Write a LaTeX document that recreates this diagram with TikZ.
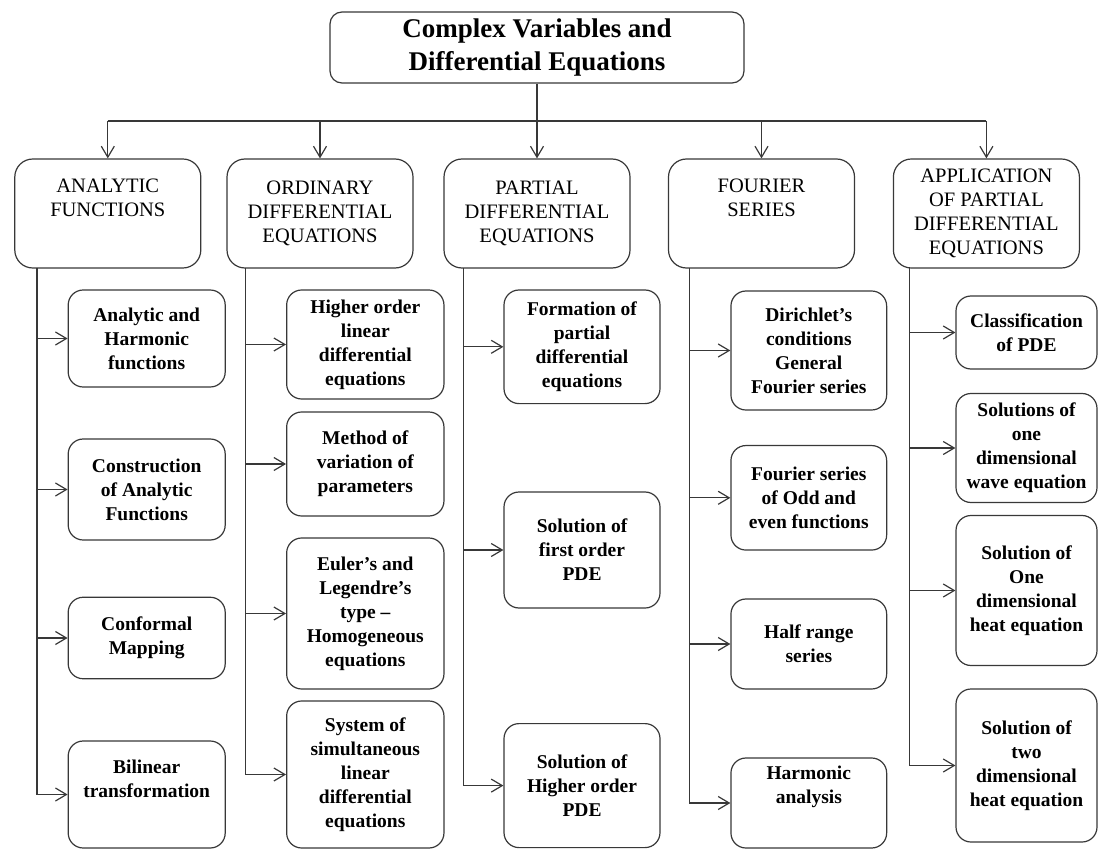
\documentclass[tikz,border=0pt]{standalone}
\usepackage{fontspec}
\setmainfont{Liberation Serif}
\usetikzlibrary{arrows.meta}
\definecolor{edge}{gray}{0.22}
\begin{document}
\begin{tikzpicture}[x=1pt,y=-1pt,
  frame/.style={draw=edge, line width=1.2pt, inner sep=0pt, align=center, text=black},
  sz/.style 2 args={minimum width=#1pt, minimum height=#2pt},
  rootbox/.style={frame, rounded corners=12pt, font=\fontsize{27}{33}\selectfont\bfseries},
  headbox/.style={frame, rounded corners=18pt, sz={186}{109}, font=\fontsize{20.5}{24}\selectfont},
  topicbox/.style={frame, rounded corners=15pt, font=\fontsize{19.5}{24}\selectfont\bfseries},
  link/.style={draw=edge, line width=1.2pt},
  feed/.style={link, -{Straight Barb[length=11pt,width=13pt]}},
]
\useasboundingbox (0,0) rectangle (1100,850);

% root
\node[rootbox, sz={414}{71}] (root) at (537,47.5) {Complex Variables and\\Differential Equations};

% main branches
\node[headbox] (ana) at (107.8,213.5) {ANALYTIC\\FUNCTIONS\\\strut};
\node[headbox] (ord) at (320,213.5) {ORDINARY\\DIFFERENTIAL\\EQUATIONS};
\node[headbox] (pde) at (537,213.5) {PARTIAL\\DIFFERENTIAL\\EQUATIONS};
\node[headbox] (fou) at (761.5,213.5) {FOURIER\\SERIES\\\strut};
\node[headbox] (app) at (986.4,213.5) {APPLICATION\\OF PARTIAL\\DIFFERENTIAL\\EQUATIONS};

% analytic functions
\node[topicbox, sz={157}{97}]  (ah) at (146.7,338.5) {Analytic and\\Harmonic\\functions};
\node[topicbox, sz={157}{101}] (ca) at (146.7,489.5) {Construction\\of Analytic\\Functions};
\node[topicbox, sz={157}{81.5}] (cm) at (146.7,638) {Conformal\\Mapping};
\node[topicbox, sz={157}{107}] (bt) at (146.7,794.5) {Bilinear\\transformation\\\strut};

% ordinary differential equations
\node[topicbox, sz={157.3}{109}] (ho) at (365.3,344.5) {Higher order\\linear\\differential\\equations};
\node[topicbox, sz={157.3}{104}] (mv) at (365.3,464) {Method of\\variation of\\parameters};
\node[topicbox, sz={157.3}{151}] (el) at (365.3,613.5) {Euler’s and\\Legendre’s\\type –\\Homogeneous\\equations};
\node[topicbox, sz={157.3}{147}] (ss) at (365.3,774.5) {System of\\simultaneous\\linear\\differential\\equations};

% partial differential equations
\node[topicbox, sz={156}{113.6}] (fp) at (582,346.8) {Formation of\\partial\\differential\\equations};
\node[topicbox, sz={156}{116}]   (sf) at (582,550) {Solution of\\first order\\PDE};
\node[topicbox, sz={156}{124}]   (sh) at (582,785.6) {Solution of\\Higher order\\PDE};

% fourier series
\node[topicbox, sz={155.7}{119}]   (dc) at (808.8,350.5) {Dirichlet’s\\conditions\\General\\Fourier series};
\node[topicbox, sz={155.7}{104.5}] (fo) at (808.8,497.8) {Fourier series\\of Odd and\\even functions};
\node[topicbox, sz={155.7}{90}]    (hr) at (808.8,644) {Half range\\series};
\node[topicbox, sz={155.7}{90}]    (ha) at (808.8,803) {Harmonic\\analysis\\[6pt]\strut};

% applications
\node[topicbox, sz={141}{73}]  (cp) at (1026.5,332.5) {Classification\\of PDE};
\node[topicbox, sz={141}{109}] (sw) at (1026.5,448) {Solutions of\\one\\dimensional\\wave equation};
\node[topicbox, sz={141}{150}] (so) at (1026.5,590.5) {Solution of\\One\\dimensional\\heat equation};
\node[topicbox, sz={141}{153}] (st) at (1026.5,765.5) {Solution of\\two\\dimensional\\heat equation};

% distribution bus
\coordinate (bus) at (537,121);
\draw[link] (root.south) -- (bus);
\draw[link] (ana.north |- bus) -- (app.north |- bus);
\foreach \h in {ana,ord,pde,fou,app}
  \draw[feed] (\h.north |- bus) -- (\h.north);

% trunks under each branch
\coordinate (anaT) at (37,268);
\coordinate (ordT) at (245.5,268);
\coordinate (pdeT) at (463.3,268);
\coordinate (fouT) at (689.3,268);
\coordinate (appT) at (909.3,268);

\draw[link] (anaT) -- (anaT |- bt.west);
\foreach \n in {ah,ca,cm,bt} \draw[feed] (anaT |- \n.west) -- (\n.west);

\draw[link] (ordT) -- (ordT |- ss.west);
\foreach \n in {ho,mv,el,ss} \draw[feed] (ordT |- \n.west) -- (\n.west);

\draw[link] (pdeT) -- (pdeT |- sh.west);
\foreach \n in {fp,sf,sh} \draw[feed] (pdeT |- \n.west) -- (\n.west);

\draw[link] (fouT) -- (fouT |- ha.west);
\foreach \n in {dc,fo,hr,ha} \draw[feed] (fouT |- \n.west) -- (\n.west);

\draw[link] (appT) -- (appT |- st.west);
\foreach \n in {cp,sw,so,st} \draw[feed] (appT |- \n.west) -- (\n.west);
\end{tikzpicture}
\end{document}
